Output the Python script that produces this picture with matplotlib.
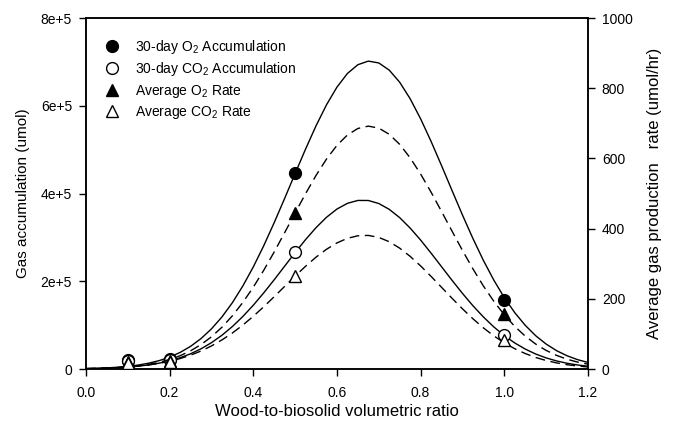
import matplotlib
matplotlib.use("Agg")
import matplotlib.pyplot as plt

plt.rcParams['font.family'] = ['Liberation Sans', 'DejaVu Sans']
plt.rcParams['mathtext.fontset'] = 'custom'
plt.rcParams['mathtext.rm'] = 'Liberation Sans'
plt.rcParams['mathtext.it'] = 'Liberation Sans'

# measured points
ratio = [0.1, 0.2, 0.5, 1.0]
o2_accum = [20000, 22000, 447000, 157000]
co2_accum = [18000, 20000, 266000, 77000]
o2_rate = [20, 22, 444, 157]      # umol/hr (right axis)
co2_rate = [17, 19, 265, 82]

# fitted curves
fit_x = [0.000, 0.025, 0.050, 0.075, 0.100, 0.125, 0.150, 0.175, 0.200, 0.225,
         0.250, 0.275, 0.300, 0.325, 0.350, 0.375, 0.400, 0.425, 0.450, 0.475,
         0.500, 0.525, 0.550, 0.575, 0.600, 0.625, 0.650, 0.675, 0.700, 0.725,
         0.750, 0.775, 0.800, 0.825, 0.850, 0.875, 0.900, 0.925, 0.950, 0.975,
         1.000, 1.025, 1.050, 1.075, 1.100, 1.125, 1.150, 1.175, 1.200]
fit_o2_accum = [1015, 1627, 2569, 3973, 6043, 9029, 13260, 19120, 27100, 37720,
                51620, 69320, 91540, 118600, 151200, 189300, 232700, 281100, 333700, 389000,
                445600, 501400, 554400, 602200, 642500, 673600, 693600, 701800, 697600, 681200,
                653600, 616000, 570300, 518800, 463700, 407100, 351100, 297500, 247700, 202600,
                162800, 128500, 99700, 75960, 56900, 41800, 30200, 21400, 14950]
fit_co2_accum = [770, 1220, 1900, 2900, 4370, 6440, 9350, 13330, 18650, 25650,
                 34650, 46000, 60000, 76900, 96800, 119700, 145400, 173600, 203500, 234500,
                 265400, 295000, 322200, 345800, 364600, 377600, 384200, 384100, 377200, 363900,
                 345000, 321200, 293900, 264100, 233200, 202300, 172400, 144300, 118700, 95900,
                 76200, 59400, 45500, 34200, 25300, 18400, 13100, 9200, 6350]
fit_o2_rate = [1.0, 1.6, 2.6, 4.0, 6.0, 9.1, 13.3, 19.2, 27.2, 37.8,
               51.8, 69.6, 91.8, 119.0, 151.6, 189.7, 233.1, 281.4, 333.6, 388.6,
               444.5, 499.6, 551.6, 598.2, 637.2, 666.7, 685.3, 692.0, 686.3, 668.7,
               640.0, 601.6, 555.5, 503.9, 449.0, 393.1, 337.9, 285.4, 236.7, 193.0,
               154.5, 121.4, 93.8, 71.2, 53.0, 38.8, 27.9, 19.7, 13.7]
fit_co2_rate = [1.1, 1.8, 2.6, 3.9, 5.7, 8.2, 11.6, 16.2, 22.1, 29.7,
                39.4, 51.2, 65.7, 82.8, 102.6, 125.2, 150.2, 177.4, 206.0, 235.5,
                264.7, 292.8, 318.7, 341.1, 359.3, 372.3, 379.6, 380.6, 374.9, 362.6,
                344.3, 320.9, 293.7, 263.9, 232.8, 201.7, 171.5, 143.2, 117.3, 94.4,
                74.6, 57.8, 44.1, 32.9, 24.2, 17.4, 12.3, 8.6, 5.8]

fig = plt.figure(figsize=(6.75, 4.26), dpi=100)
ax = fig.add_axes([0.1274, 0.1338, 0.7436, 0.8239])
ax2 = ax.twinx()

dash = (0, (7, 4))
ax.plot(fit_x, fit_o2_accum, color='black', lw=1.0)
ax.plot(fit_x, fit_co2_accum, color='black', lw=1.0)
ax2.plot(fit_x, fit_o2_rate, color='black', lw=1.0, linestyle=dash)
ax2.plot(fit_x, fit_co2_rate, color='black', lw=1.0, linestyle=dash)

ms = 8.5
h1, = ax.plot(ratio, o2_accum, 'o', ms=ms, mfc='black', mec='black', zorder=5,
              label='30-day O$_2$ Accumulation')
h2, = ax.plot(ratio, co2_accum, 'o', ms=ms, mfc='white', mec='black', mew=1.0, zorder=5,
              label='30-day CO$_2$ Accumulation')
h3, = ax2.plot(ratio, o2_rate, '^', ms=ms, mfc='black', mec='black', zorder=5,
               label='Average O$_2$ Rate')
h4, = ax2.plot(ratio, co2_rate, '^', ms=ms, mfc='white', mec='black', mew=1.0, zorder=5,
               label='Average CO$_2$ Rate')

ax.set_xlim(0, 1.2)
ax.set_ylim(0, 800000)
ax2.set_ylim(0, 1000)
ax.set_xticks([0.0, 0.2, 0.4, 0.6, 0.8, 1.0, 1.2])
ax.set_xticklabels(['0.0', '0.2', '0.4', '0.6', '0.8', '1.0', '1.2'])
ax.set_yticks([0, 200000, 400000, 600000, 800000])
ax.set_yticklabels(['0', '2e+5', '4e+5', '6e+5', '8e+5'])
ax2.set_yticks([0, 200, 400, 600, 800, 1000])

for a in (ax, ax2):
    a.tick_params(direction='out', length=5, width=1.0, labelsize=10, colors='black')
    for s in a.spines.values():
        s.set_linewidth(1.1)
ax.tick_params(axis='x', pad=7)
ax.tick_params(axis='y', pad=5)
ax2.tick_params(axis='y', pad=5)

ax.set_xlabel('Wood-to-biosolid volumetric ratio', fontsize=12, labelpad=3)
ax.set_ylabel('Gas accumulation (umol)', fontsize=11, labelpad=8)
ax2.set_ylabel('Average gas production   rate (umol/hr)', fontsize=12, labelpad=10)

ax.legend(handles=[h1, h2, h3, h4], loc='upper left', bbox_to_anchor=(0.008, 0.984),
          frameon=False, fontsize=10, labelspacing=0.33, handletextpad=1.03,
          handlelength=1.2, borderaxespad=0.6)

fig.savefig('out.png', dpi=100)
